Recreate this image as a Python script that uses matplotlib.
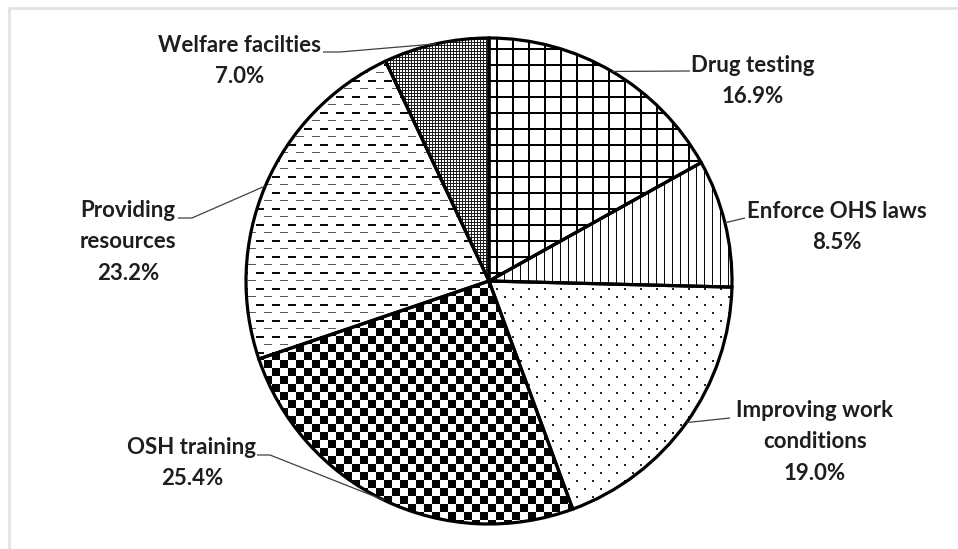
"""
Pie chart of suggested safety measures, drawn in black-and-white
pattern fills (grid, lines, dots, checks, dashes) with leader-line labels.
"""

import matplotlib.pyplot as plt
import matplotlib.patches as mpatches
import numpy as np

# ── Data ──────────────────────────────────────────────────────────────────────
categories = [
    "Drug testing",
    "Enforce OHS laws",
    "Improving work\nconditions",
    "OSH training",
    "Providing\nresources",
    "Welfare facilties",
]
shares = [16.9, 8.5, 19.0, 25.4, 23.2, 7.0]

# ── Canvas (1 data unit == 1 pixel, y measured from the bottom) ──────────────
W, H = 958, 549
DPI = 100
CX, CY, R = 489, 281, 243          # pie centre / radius in pixels (top-origin y)


def flip(y):
    return H - y


fig = plt.figure(figsize=(W / DPI, H / DPI), dpi=DPI)
ax = fig.add_axes([0, 0, 1, 1])

wedges, _ = ax.pie(
    shares,
    startangle=90,
    counterclock=False,
    center=(CX, flip(CY)),
    radius=R,
    wedgeprops=dict(facecolor="none", edgecolor="black", linewidth=2.3, zorder=3),
)
ax.set_xlim(0, W)
ax.set_ylim(0, H)
ax.axis("off")

# ── Pattern fills, built per pixel and clipped to each wedge ────────────────
yy, xx = np.mgrid[0:H, 0:W]


def pattern(mask, shade=0.0):
    img = np.ones((H, W))
    img[mask] = shade
    return img


grid = pattern((xx % 16 < 2) | (yy % 16 < 2))
vlines = pattern(xx % 8 == 0, 0.05)
dots = pattern(((xx % 16 < 2) & (yy % 16 < 2)) |
               (((xx + 8) % 16 < 2) & ((yy + 8) % 16 < 2)), 0.15)
checks = pattern(((xx // 8) + (yy // 8)) % 2 == 0, 0.02)
dashes = np.ones((H, W))
dashes[((yy % 16) < 2) & (xx % 16 < 8)] = 0.05
dashes[((yy % 16) == 8) & ((xx + 8) % 16 < 8)] = 0.35
fine = pattern((xx % 3 == 0) | (yy % 3 == 0), 0.12)

fills = [grid, vlines, dots, checks, dashes, fine]

for wedge, tex in zip(wedges, fills):
    im = ax.imshow(tex, cmap="gray", vmin=0, vmax=1, interpolation="nearest",
                   extent=(0, W, 0, H), zorder=2)
    im.set_clip_path(wedge)
ax.set_xlim(0, W)
ax.set_ylim(0, H)

# ── Labels with leader lines ─────────────────────────────────────────────────
# text centre (x, y) and elbow points from the text towards the wedge
label_pos = [(753, 81), (837, 227), (815, 442), (192, 463), (128, 242), (240, 61)]
leader_pts = [
    [(690, 71)],
    [(745, 218)],
    [(730, 418)],
    [(257, 455), (270, 455)],
    [(178, 218), (192, 218)],
    [(323, 52), (340, 52)],
]

for wedge, name, share, (tx, ty), pts in zip(wedges, categories, shares,
                                              label_pos, leader_pts):
    mid = np.deg2rad((wedge.theta1 + wedge.theta2) / 2)
    ex = CX + R * np.cos(mid)
    ey = flip(CY) + R * np.sin(mid)
    xs = [p[0] for p in pts] + [ex]
    ys = [flip(p[1]) for p in pts] + [ey]
    ax.plot(xs, ys, color="#404040", lw=0.9, zorder=4, solid_capstyle="butt")
    ax.text(tx, flip(ty), f"{name}\n{share:.1f}%", ha="center", va="center",
            fontsize=16, fontweight="bold", family="Lato", color="#1e1e1e",
            linespacing=1.6, zorder=5)

# light frame round the chart area
frame = mpatches.Rectangle((9, -10), W + 10, flip(8) + 10, fill=False,
                           edgecolor="#e3e3e3", linewidth=2)
ax.add_patch(frame)

fig.savefig("out.png", dpi=DPI)
